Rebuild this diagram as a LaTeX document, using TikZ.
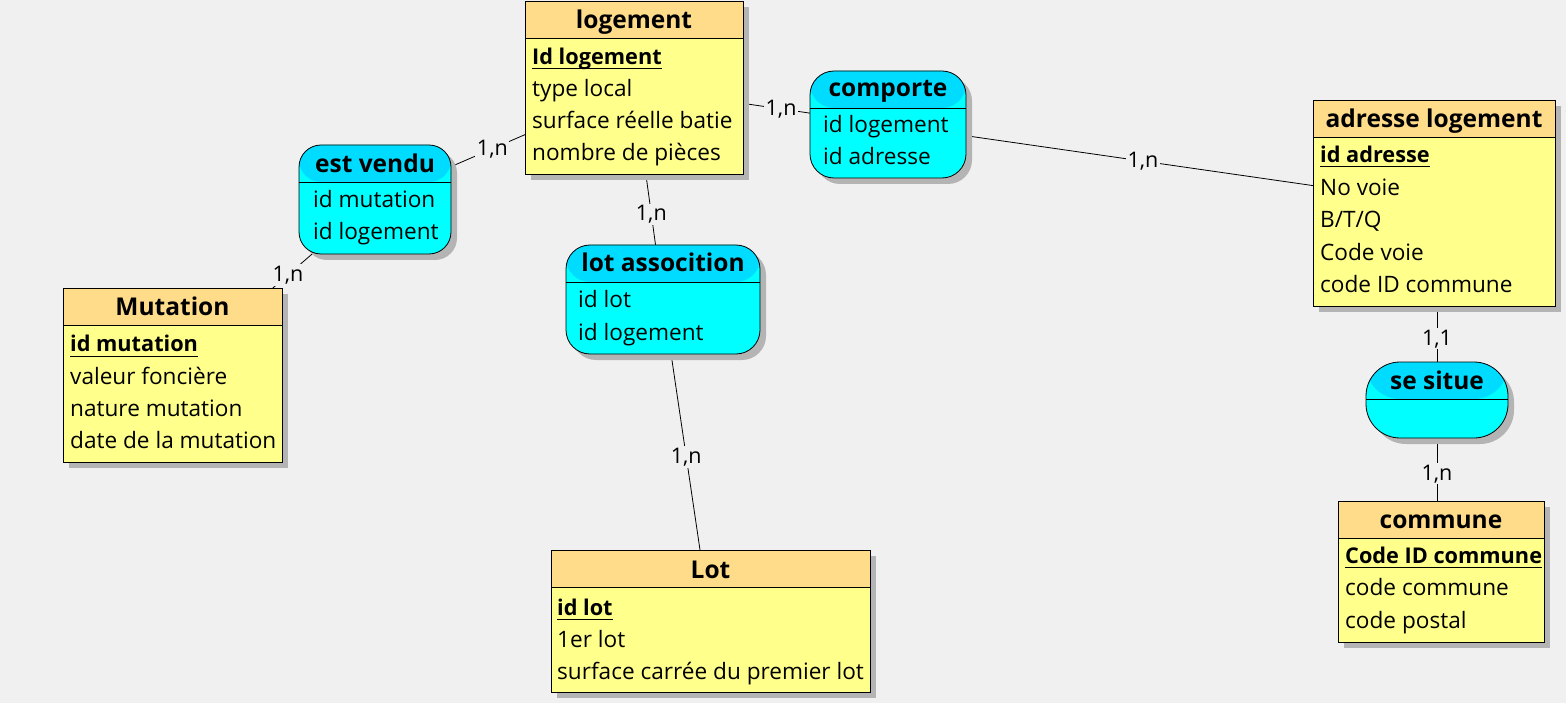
\documentclass[tikz,border=0pt]{standalone}
\usepackage{fontspec}
\setmainfont{Open Sans}
\usetikzlibrary{backgrounds,shadows,calc}
\definecolor{bgc}{HTML}{F0F0F0}
\definecolor{ebody}{HTML}{FFFF8C}
\definecolor{ehead}{HTML}{FFDC8A}
\definecolor{abody}{HTML}{00FFFF}
\definecolor{ahead}{HTML}{00DCFF}
\definecolor{shadowc}{HTML}{B4B4B4}
\tikzset{
  box/.style 2 args={draw=black, line width=0.8pt, fill=#2, outer sep=0pt, inner sep=0pt,
    drop shadow={shadow xshift=6pt, shadow yshift=-6pt, fill=shadowc, opacity=1},
    path picture={
      \fill[#1] (path picture bounding box.north west) rectangle ([yshift=-37pt]path picture bounding box.north east);
      \draw[line width=0.8pt] ([yshift=-37pt]path picture bounding box.north west) -- ([yshift=-37pt]path picture bounding box.north east);
    }},
  entity/.style={box={ehead}{ebody}},
  assoc/.style={box={ahead}{abody}, rounded corners=#1},
  ttl/.style={anchor=base, inner sep=0pt, font=\fontsize{24.5}{28}\selectfont\bfseries},
  attr/.style={anchor=base west, inner sep=0pt, font=\fontsize{22.6}{26}\selectfont},
  keyattr/.style={attr, font=\fontsize{21.7}{26}\selectfont\bfseries},
  card/.style={fill=bgc, inner sep=1.5pt, font=\fontsize{21.5}{24}\selectfont},
  link/.style={draw=black, line width=0.8pt},
}
\newcommand\keyline[1]{\draw[line width=1pt] ([yshift=-4pt]#1.base west) -- ([yshift=-4pt]#1.base east);}
\begin{document}
\begin{tikzpicture}[x=1pt,y=-1pt]
\useasboundingbox (0,0) rectangle (1566,703);

% ---------- entities ----------
\node[entity, minimum width=218pt, minimum height=173pt, anchor=north west] (logement) at (525,1) {};
\node[entity, minimum width=219pt, minimum height=174pt, anchor=north west] (mutation) at (63,288) {};
\node[entity, minimum width=242pt, minimum height=206pt, anchor=north west] (adresse) at (1313,100) {};
\node[entity, minimum width=206pt, minimum height=141pt, anchor=north west] (commune) at (1338,501) {};
\node[entity, minimum width=319pt, minimum height=142pt, anchor=north west] (lot) at (551,550) {};

% ---------- associations ----------
\node[assoc=22pt, minimum width=152pt, minimum height=109pt, anchor=north west] (estvendu) at (299,145) {};
\node[assoc=24pt, minimum width=194pt, minimum height=109pt, anchor=north west] (lotassoc) at (566,245) {};
\node[assoc=24pt, minimum width=156pt, minimum height=107pt, anchor=north west] (comporte) at (810,71) {};
\node[assoc=34pt, minimum width=142pt, minimum height=76pt, anchor=north west] (sesitue) at (1366,362) {};

% ---------- connectors ----------
\begin{scope}[on background layer]
\fill[bgc] (0,0) rectangle (1566,703);
\draw[link] (estvendu.center) -- node[card, pos=0.453] (c1) {1,n} (logement.center);
\draw[link] (estvendu.center) -- node[card, pos=0.43] (c2) {1,n} (mutation.center);
\draw[link] (logement.center) -- node[card, pos=0.597] (c3) {1,n} (lotassoc.center);
\draw[link] (lotassoc.center) -- node[card, pos=0.49] (c4) {1,n} (lot.center);
\draw[link] (logement.center) -- node[card, pos=0.579] (c5) {1,n} (comporte.center);
\draw[link] (comporte.center) -- node[card, pos=0.467] (c6) {1,n} (adresse.center);
\draw[link] (sesitue.center) -- node[card, pos=0.31] (c7) {1,1} (sesitue.center |- adresse.center);
\draw[link] (sesitue.center) -- node[card, pos=0.43] (c8) {1,n} (sesitue.center |- commune.center);
\end{scope}

% ---------- titles ----------
\node[ttl] (t-logement) at ([yshift=-28pt]logement.north) {logement};
\node[ttl] (t-mutation) at ([yshift=-28pt]mutation.north) {Mutation};
\node[ttl] (t-adresse) at ([yshift=-28pt]adresse.north) {adresse logement};
\node[ttl] (t-commune) at ([yshift=-27pt]commune.north) {commune};
\node[ttl] (t-lot) at ([yshift=-28pt]lot.north) {Lot};
\node[ttl] (t-estvendu) at ([yshift=-28pt]estvendu.north) {est vendu};
\node[ttl] (t-lotassoc) at ([yshift=-27pt]lotassoc.north) {lot assocition};
\node[ttl] (t-comporte) at ([yshift=-26pt]comporte.north) {comporte};
\node[ttl] (t-sesitue) at ([yshift=-27pt]sesitue.north) {se situe};

% ---------- attributes ----------
\node[keyattr] (k-logement) at ([xshift=7pt,yshift=-64pt]logement.north west) {Id logement};
\keyline{k-logement}
\foreach \t [count=\i] in {type local, surface réelle batie, nombre de pièces}
  \node[attr] (logement-\i) at ([xshift=7pt,yshift={-(64+32*\i)*1pt}]logement.north west) {\t};

\node[keyattr] (k-mutation) at ([xshift=7pt,yshift=-64pt]mutation.north west) {id mutation};
\keyline{k-mutation}
\foreach \t [count=\i] in {valeur foncière, nature mutation, date de la mutation}
  \node[attr] (mutation-\i) at ([xshift=7pt,yshift={-(64+32*\i)*1pt}]mutation.north west) {\t};

\node[keyattr] (k-adresse) at ([xshift=7pt,yshift=-63pt]adresse.north west) {id adresse};
\keyline{k-adresse}
\foreach \t [count=\i] in {No voie, B/T/Q, Code voie, code ID commune}
  \node[attr] (adresse-\i) at ([xshift=7pt,yshift={-(63+32.5*\i)*1pt}]adresse.north west) {\t};

\node[keyattr] (k-commune) at ([xshift=7pt,yshift=-62pt]commune.north west) {Code ID commune};
\keyline{k-commune}
\foreach \t [count=\i] in {code commune, code postal}
  \node[attr] (commune-\i) at ([xshift=7pt,yshift={-(62+32.5*\i)*1pt}]commune.north west) {\t};

\node[keyattr] (k-lot) at ([xshift=6pt,yshift=-65pt]lot.north west) {id lot};
\keyline{k-lot}
\foreach \t [count=\i] in {1er lot, surface carrée du premier lot}
  \node[attr] (lot-\i) at ([xshift=6pt,yshift={-(65+32*\i)*1pt}]lot.north west) {\t};

\foreach \t [count=\i from 0] in {id mutation, id logement}
  \node[attr] (estvendu-\i) at ([xshift=14pt,yshift={-(63+32*\i)*1pt}]estvendu.north west) {\t};
\foreach \t [count=\i from 0] in {id lot, id logement}
  \node[attr] (lotassoc-\i) at ([xshift=12pt,yshift={-(63+33*\i)*1pt}]lotassoc.north west) {\t};
\foreach \t [count=\i from 0] in {id logement, id adresse}
  \node[attr] (comporte-\i) at ([xshift=13pt,yshift={-(62+31.5*\i)*1pt}]comporte.north west) {\t};
\end{tikzpicture}
\end{document}
